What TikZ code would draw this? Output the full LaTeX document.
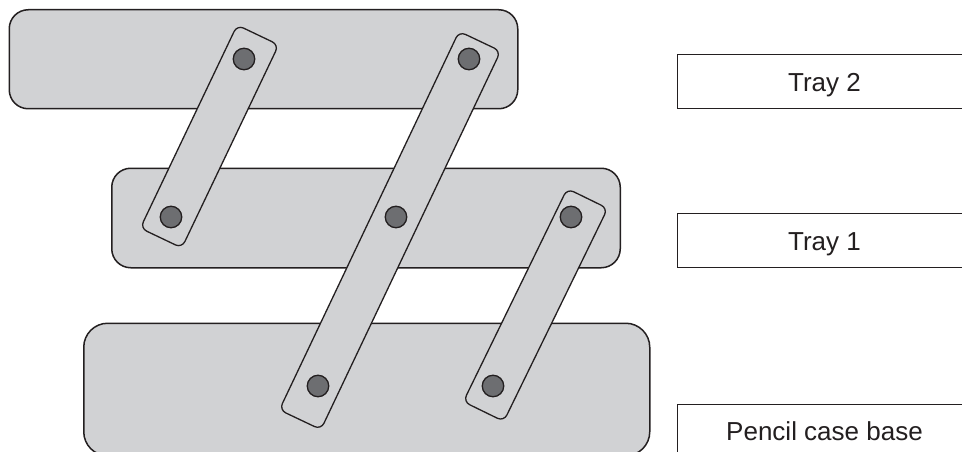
\documentclass[tikz,border=0pt]{standalone}
\usepackage{fontspec}
\setmainfont{Liberation Sans}
\definecolor{panel}{HTML}{D1D2D4}
\definecolor{pinfill}{HTML}{6D6E71}
\definecolor{ink}{HTML}{231F20}
\tikzset{
  x=1pt,y=-1pt,
  tray/.style={draw=ink,fill=panel,line width=1.5pt,rectangle,rounded corners=19pt,inner sep=0pt,anchor=north west},
  bar/.style={draw=ink,fill=panel,line width=1.3pt,rectangle,rounded corners=7pt,inner sep=0pt,minimum height=46pt},
  pin/.style={draw=ink,fill=pinfill,line width=1.3pt,circle,inner sep=0pt,minimum size=21.5pt},
  labelbox/.style={draw=ink,fill=white,line width=1.3pt,rectangle,inner sep=0pt,anchor=north west},
  labeltext/.style={font=\fontsize{26}{30}\selectfont,text=ink,anchor=base,inner sep=0pt},
}
\begin{document}
\begin{tikzpicture}
\useasboundingbox (0,0) rectangle (962,452);
\begin{scope}
\clip (0,0) rectangle (962,452);
\node[tray,minimum width=508.5pt,minimum height=99pt] (tray2) at (8.5,9) {};
\node[tray,minimum width=508.5pt,minimum height=99.5pt] (tray1) at (111,167.5) {};
\node[tray,rounded corners=24pt,minimum width=566pt,minimum height=132.5pt] (base) at (83,322.5) {};
\node[bar,rotate=64.5,minimum width=225pt] (bar1) at (209.5,136.5) {};
\node[bar,rotate=64.6,minimum width=419pt] (bar2) at (390,230.5) {};
\node[bar,rotate=64,minimum width=237pt,minimum height=45pt] (bar3) at (535.5,305) {};
\node[pin] (p1) at (244,59) {};
\node[pin] (p2) at (171,217) {};
\node[pin] (p3) at (469,59) {};
\node[pin] (p4) at (396,217) {};
\node[pin] (p5) at (318,386) {};
\node[pin] (p6) at (571,217) {};
\node[pin] (p7) at (493,386) {};
\node[labelbox,minimum width=320pt,minimum height=54pt] (l2) at (677,54) {};
\node[labelbox,minimum width=320pt,minimum height=54pt] (l1) at (677,213) {};
\node[labelbox,minimum width=320pt,minimum height=60pt] (l0) at (677,404) {};
\end{scope}
\node[labeltext] (t2) at (824.5,91.3) {Tray 2};
\node[labeltext] (t1) at (824.5,250.3) {Tray 1};
\node[labeltext] (t0) at (824.5,440) {Pencil case base};
\end{tikzpicture}
\end{document}
